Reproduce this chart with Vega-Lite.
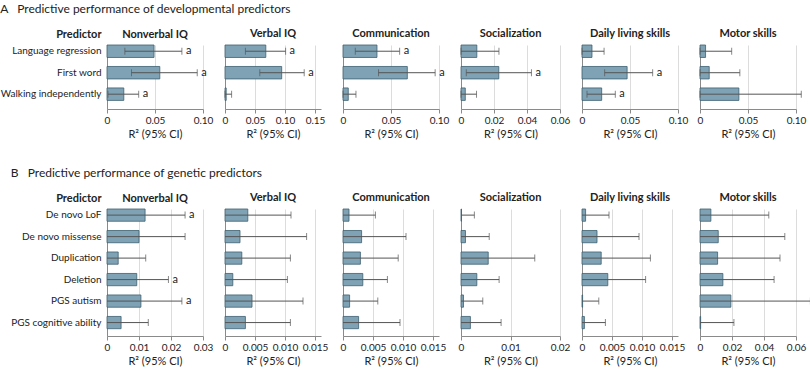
{
  "$schema": "https://vega.github.io/schema/vega-lite/v6.json",
  "background": "white",
  "padding": {"left": 0, "top": 2, "right": 0, "bottom": 2},
  "datasets": {
    "dev": [
      {"outcome": "Nonverbal IQ", "predictor": "Language regression", "r2": 0.049, "lo": 0.0186, "hi": 0.078, "sig": "a"},
      {"outcome": "Nonverbal IQ", "predictor": "First word", "r2": 0.055, "lo": 0.0255, "hi": 0.094, "sig": "a"},
      {"outcome": "Nonverbal IQ", "predictor": "Walking independently", "r2": 0.0175, "lo": 0.001, "hi": 0.033, "sig": "a"},
      {"outcome": "Verbal IQ", "predictor": "Language regression", "r2": 0.068, "lo": 0.034, "hi": 0.101, "sig": "a"},
      {"outcome": "Verbal IQ", "predictor": "First word", "r2": 0.0945, "lo": 0.058, "hi": 0.132, "sig": "a"},
      {"outcome": "Verbal IQ", "predictor": "Walking independently", "r2": 0.002, "lo": 0.0, "hi": 0.011, "sig": ""},
      {"outcome": "Communication", "predictor": "Language regression", "r2": 0.0354, "lo": 0.0128, "hi": 0.059, "sig": "a"},
      {"outcome": "Communication", "predictor": "First word", "r2": 0.067, "lo": 0.037, "hi": 0.096, "sig": "a"},
      {"outcome": "Communication", "predictor": "Walking independently", "r2": 0.0055, "lo": 0.0, "hi": 0.0135, "sig": ""},
      {"outcome": "Socialization", "predictor": "Language regression", "r2": 0.0096, "lo": 0.0, "hi": 0.023, "sig": ""},
      {"outcome": "Socialization", "predictor": "First word", "r2": 0.0229, "lo": 0.0032, "hi": 0.0427, "sig": "a"},
      {"outcome": "Socialization", "predictor": "Walking independently", "r2": 0.0026, "lo": 0.0, "hi": 0.0094, "sig": ""},
      {"outcome": "Daily living skills", "predictor": "Language regression", "r2": 0.0104, "lo": 0.0, "hi": 0.023, "sig": ""},
      {"outcome": "Daily living skills", "predictor": "First word", "r2": 0.047, "lo": 0.0236, "hi": 0.0736, "sig": "a"},
      {"outcome": "Daily living skills", "predictor": "Walking independently", "r2": 0.0205, "lo": 0.0052, "hi": 0.0347, "sig": "a"},
      {"outcome": "Motor skills", "predictor": "Language regression", "r2": 0.0058, "lo": 0.0, "hi": 0.033, "sig": ""},
      {"outcome": "Motor skills", "predictor": "First word", "r2": 0.0096, "lo": 0.0, "hi": 0.0415, "sig": ""},
      {"outcome": "Motor skills", "predictor": "Walking independently", "r2": 0.0405, "lo": 0.0, "hi": 0.1055, "sig": ""}
    ],
    "gen": [
      {"outcome": "Nonverbal IQ", "predictor": "De novo LoF", "r2": 0.0119, "lo": 0, "hi": 0.0244, "sig": "a"},
      {"outcome": "Nonverbal IQ", "predictor": "De novo missense", "r2": 0.010, "lo": 0, "hi": 0.0244, "sig": ""},
      {"outcome": "Nonverbal IQ", "predictor": "Duplication", "r2": 0.0035, "lo": 0, "hi": 0.0121, "sig": ""},
      {"outcome": "Nonverbal IQ", "predictor": "Deletion", "r2": 0.0093, "lo": 0, "hi": 0.0192, "sig": "a"},
      {"outcome": "Nonverbal IQ", "predictor": "PGS autism", "r2": 0.0106, "lo": 0, "hi": 0.0234, "sig": "a"},
      {"outcome": "Nonverbal IQ", "predictor": "PGS cognitive ability", "r2": 0.0044, "lo": 0, "hi": 0.0129, "sig": ""},
      {"outcome": "Verbal IQ", "predictor": "De novo LoF", "r2": 0.0038, "lo": 0, "hi": 0.011, "sig": ""},
      {"outcome": "Verbal IQ", "predictor": "De novo missense", "r2": 0.0025, "lo": 0, "hi": 0.0136, "sig": ""},
      {"outcome": "Verbal IQ", "predictor": "Duplication", "r2": 0.0028, "lo": 0, "hi": 0.0109, "sig": ""},
      {"outcome": "Verbal IQ", "predictor": "Deletion", "r2": 0.0013, "lo": 0, "hi": 0.0104, "sig": ""},
      {"outcome": "Verbal IQ", "predictor": "PGS autism", "r2": 0.0045, "lo": 0, "hi": 0.013, "sig": ""},
      {"outcome": "Verbal IQ", "predictor": "PGS cognitive ability", "r2": 0.0034, "lo": 0, "hi": 0.0109, "sig": ""},
      {"outcome": "Communication", "predictor": "De novo LoF", "r2": 0.001, "lo": 0, "hi": 0.0054, "sig": ""},
      {"outcome": "Communication", "predictor": "De novo missense", "r2": 0.0031, "lo": 0, "hi": 0.0105, "sig": ""},
      {"outcome": "Communication", "predictor": "Duplication", "r2": 0.0029, "lo": 0, "hi": 0.0092, "sig": ""},
      {"outcome": "Communication", "predictor": "Deletion", "r2": 0.0033, "lo": 0, "hi": 0.0074, "sig": ""},
      {"outcome": "Communication", "predictor": "PGS autism", "r2": 0.0011, "lo": 0, "hi": 0.0058, "sig": ""},
      {"outcome": "Communication", "predictor": "PGS cognitive ability", "r2": 0.0026, "lo": 0, "hi": 0.0095, "sig": ""},
      {"outcome": "Socialization", "predictor": "De novo LoF", "r2": 0.0001, "lo": 0, "hi": 0.0027, "sig": ""},
      {"outcome": "Socialization", "predictor": "De novo missense", "r2": 0.0009, "lo": 0, "hi": 0.0057, "sig": ""},
      {"outcome": "Socialization", "predictor": "Duplication", "r2": 0.0055, "lo": 0, "hi": 0.0149, "sig": ""},
      {"outcome": "Socialization", "predictor": "Deletion", "r2": 0.0032, "lo": 0, "hi": 0.0077, "sig": ""},
      {"outcome": "Socialization", "predictor": "PGS autism", "r2": 0.0005, "lo": 0, "hi": 0.0044, "sig": ""},
      {"outcome": "Socialization", "predictor": "PGS cognitive ability", "r2": 0.0019, "lo": 0, "hi": 0.0081, "sig": ""},
      {"outcome": "Daily living skills", "predictor": "De novo LoF", "r2": 0.0006, "lo": 0, "hi": 0.0045, "sig": ""},
      {"outcome": "Daily living skills", "predictor": "De novo missense", "r2": 0.0025, "lo": 0, "hi": 0.0095, "sig": ""},
      {"outcome": "Daily living skills", "predictor": "Duplication", "r2": 0.0032, "lo": 0, "hi": 0.0114, "sig": ""},
      {"outcome": "Daily living skills", "predictor": "Deletion", "r2": 0.0043, "lo": 0, "hi": 0.0106, "sig": ""},
      {"outcome": "Daily living skills", "predictor": "PGS autism", "r2": 0.0001, "lo": 0, "hi": 0.0028, "sig": ""},
      {"outcome": "Daily living skills", "predictor": "PGS cognitive ability", "r2": 0.0004, "lo": 0, "hi": 0.0039, "sig": ""},
      {"outcome": "Motor skills", "predictor": "De novo LoF", "r2": 0.0068, "lo": 0, "hi": 0.043, "sig": ""},
      {"outcome": "Motor skills", "predictor": "De novo missense", "r2": 0.0114, "lo": 0, "hi": 0.053, "sig": ""},
      {"outcome": "Motor skills", "predictor": "Duplication", "r2": 0.011, "lo": 0, "hi": 0.050, "sig": ""},
      {"outcome": "Motor skills", "predictor": "Deletion", "r2": 0.0143, "lo": 0, "hi": 0.0463, "sig": ""},
      {"outcome": "Motor skills", "predictor": "PGS autism", "r2": 0.0193, "lo": 0, "hi": 0.069, "sig": ""},
      {"outcome": "Motor skills", "predictor": "PGS cognitive ability", "r2": 0.0004, "lo": 0, "hi": 0.0212, "sig": ""}
    ]
  },
  "vconcat": [
    {
      "data": {"name": "dev"},
      "title": {"text": "A\u00a0\u00a0\u00a0Predictive performance of developmental predictors", "anchor": "start", "fontSize": 12, "fontWeight": "normal", "offset": 12},
      "spacing": 22,
      "bounds": "flush",
      "hconcat": [
        {
          "width": 96, "height": 64, "title": {"text": "Nonverbal IQ", "offset": -12},
          "transform": [{"filter": "datum.outcome === 'Nonverbal IQ'"}],
          "encoding": {"y": {"field": "predictor", "type": "nominal", "sort": null, "scale": {"paddingInner": 0.42, "paddingOuter": 0.2, "align": 0}, "axis": {"title": "Predictor", "titleAngle": 0, "titleAlign": "right", "titleBaseline": "bottom", "titleX": -6, "titleY": -6, "titleFontWeight": "bold", "labelPadding": 6}}},
          "layer": [
            {"mark": {"type": "bar", "fill": "#7fa3b5", "stroke": "#3d5f70", "strokeWidth": 0.8}, "encoding": {"x": {"field": "r2", "type": "quantitative", "title": "R² (95% CI)", "scale": {"domain": [0, 0.1]}, "axis": {"values": [0, 0.05, 0.1], "tickCount": 20, "labelOverlap": false, "labelFlush": false, "labelExpr": "datum.value == 0 ? '0' : format(datum.value, '.2f')"}}}},
            {"mark": {"type": "rule", "color": "#555", "strokeWidth": 1}, "encoding": {"x": {"field": "lo", "type": "quantitative", "title": "R² (95% CI)"}, "x2": {"field": "hi"}}},
            {"mark": {"type": "tick", "color": "#555", "thickness": 1, "size": 7}, "encoding": {"x": {"field": "lo", "type": "quantitative", "title": "R² (95% CI)"}}},
            {"mark": {"type": "tick", "color": "#555", "thickness": 1, "size": 7}, "encoding": {"x": {"field": "hi", "type": "quantitative", "title": "R² (95% CI)"}}},
            {"transform": [{"filter": "datum.sig === 'a'"}], "mark": {"type": "text", "align": "left", "dx": 4, "fontSize": 11, "color": "#222"}, "encoding": {"x": {"field": "hi", "type": "quantitative", "title": "R² (95% CI)"}, "text": {"field": "sig"}}}
          ]
        },
        {
          "width": 96, "height": 64, "title": "Verbal IQ",
          "transform": [{"filter": "datum.outcome === 'Verbal IQ'"}],
          "encoding": {"y": {"field": "predictor", "type": "nominal", "sort": null, "scale": {"paddingInner": 0.42, "paddingOuter": 0.2, "align": 0}, "axis": {"title": null, "labels": false}}},
          "layer": [
            {"mark": {"type": "bar", "fill": "#7fa3b5", "stroke": "#3d5f70", "strokeWidth": 0.8}, "encoding": {"x": {"field": "r2", "type": "quantitative", "title": "R² (95% CI)", "scale": {"domain": [0, 0.15]}, "axis": {"values": [0, 0.05, 0.1, 0.15], "tickCount": 20, "labelOverlap": false, "labelFlush": false, "labelExpr": "datum.value == 0 ? '0' : format(datum.value, '.2f')"}}}},
            {"mark": {"type": "rule", "color": "#555", "strokeWidth": 1}, "encoding": {"x": {"field": "lo", "type": "quantitative", "title": "R² (95% CI)"}, "x2": {"field": "hi"}}},
            {"mark": {"type": "tick", "color": "#555", "thickness": 1, "size": 7}, "encoding": {"x": {"field": "lo", "type": "quantitative", "title": "R² (95% CI)"}}},
            {"mark": {"type": "tick", "color": "#555", "thickness": 1, "size": 7}, "encoding": {"x": {"field": "hi", "type": "quantitative", "title": "R² (95% CI)"}}},
            {"transform": [{"filter": "datum.sig === 'a'"}], "mark": {"type": "text", "align": "left", "dx": 4, "fontSize": 11, "color": "#222"}, "encoding": {"x": {"field": "hi", "type": "quantitative", "title": "R² (95% CI)"}, "text": {"field": "sig"}}}
          ]
        },
        {
          "width": 96, "height": 64, "title": "Communication",
          "transform": [{"filter": "datum.outcome === 'Communication'"}],
          "encoding": {"y": {"field": "predictor", "type": "nominal", "sort": null, "scale": {"paddingInner": 0.42, "paddingOuter": 0.2, "align": 0}, "axis": {"title": null, "labels": false}}},
          "layer": [
            {"mark": {"type": "bar", "fill": "#7fa3b5", "stroke": "#3d5f70", "strokeWidth": 0.8}, "encoding": {"x": {"field": "r2", "type": "quantitative", "title": "R² (95% CI)", "scale": {"domain": [0, 0.1]}, "axis": {"values": [0, 0.05, 0.1], "tickCount": 20, "labelOverlap": false, "labelFlush": false, "labelExpr": "datum.value == 0 ? '0' : format(datum.value, '.2f')"}}}},
            {"mark": {"type": "rule", "color": "#555", "strokeWidth": 1}, "encoding": {"x": {"field": "lo", "type": "quantitative", "title": "R² (95% CI)"}, "x2": {"field": "hi"}}},
            {"mark": {"type": "tick", "color": "#555", "thickness": 1, "size": 7}, "encoding": {"x": {"field": "lo", "type": "quantitative", "title": "R² (95% CI)"}}},
            {"mark": {"type": "tick", "color": "#555", "thickness": 1, "size": 7}, "encoding": {"x": {"field": "hi", "type": "quantitative", "title": "R² (95% CI)"}}},
            {"transform": [{"filter": "datum.sig === 'a'"}], "mark": {"type": "text", "align": "left", "dx": 4, "fontSize": 11, "color": "#222"}, "encoding": {"x": {"field": "hi", "type": "quantitative", "title": "R² (95% CI)"}, "text": {"field": "sig"}}}
          ]
        },
        {
          "width": 99, "height": 64, "title": "Socialization",
          "transform": [{"filter": "datum.outcome === 'Socialization'"}],
          "encoding": {"y": {"field": "predictor", "type": "nominal", "sort": null, "scale": {"paddingInner": 0.42, "paddingOuter": 0.2, "align": 0}, "axis": {"title": null, "labels": false}}},
          "layer": [
            {"mark": {"type": "bar", "fill": "#7fa3b5", "stroke": "#3d5f70", "strokeWidth": 0.8}, "encoding": {"x": {"field": "r2", "type": "quantitative", "title": "R² (95% CI)", "scale": {"domain": [0, 0.06]}, "axis": {"values": [0, 0.02, 0.04, 0.06], "tickCount": 20, "labelOverlap": false, "labelFlush": false, "labelExpr": "datum.value == 0 ? '0' : format(datum.value, '.2f')"}}}},
            {"mark": {"type": "rule", "color": "#555", "strokeWidth": 1}, "encoding": {"x": {"field": "lo", "type": "quantitative", "title": "R² (95% CI)"}, "x2": {"field": "hi"}}},
            {"mark": {"type": "tick", "color": "#555", "thickness": 1, "size": 7}, "encoding": {"x": {"field": "lo", "type": "quantitative", "title": "R² (95% CI)"}}},
            {"mark": {"type": "tick", "color": "#555", "thickness": 1, "size": 7}, "encoding": {"x": {"field": "hi", "type": "quantitative", "title": "R² (95% CI)"}}},
            {"transform": [{"filter": "datum.sig === 'a'"}], "mark": {"type": "text", "align": "left", "dx": 4, "fontSize": 11, "color": "#222"}, "encoding": {"x": {"field": "hi", "type": "quantitative", "title": "R² (95% CI)"}, "text": {"field": "sig"}}}
          ]
        },
        {
          "width": 96, "height": 64, "title": "Daily living skills",
          "transform": [{"filter": "datum.outcome === 'Daily living skills'"}],
          "encoding": {"y": {"field": "predictor", "type": "nominal", "sort": null, "scale": {"paddingInner": 0.42, "paddingOuter": 0.2, "align": 0}, "axis": {"title": null, "labels": false}}},
          "layer": [
            {"mark": {"type": "bar", "fill": "#7fa3b5", "stroke": "#3d5f70", "strokeWidth": 0.8}, "encoding": {"x": {"field": "r2", "type": "quantitative", "title": "R² (95% CI)", "scale": {"domain": [0, 0.1]}, "axis": {"values": [0, 0.05, 0.1], "tickCount": 20, "labelOverlap": false, "labelFlush": false, "labelExpr": "datum.value == 0 ? '0' : format(datum.value, '.2f')"}}}},
            {"mark": {"type": "rule", "color": "#555", "strokeWidth": 1}, "encoding": {"x": {"field": "lo", "type": "quantitative", "title": "R² (95% CI)"}, "x2": {"field": "hi"}}},
            {"mark": {"type": "tick", "color": "#555", "thickness": 1, "size": 7}, "encoding": {"x": {"field": "lo", "type": "quantitative", "title": "R² (95% CI)"}}},
            {"mark": {"type": "tick", "color": "#555", "thickness": 1, "size": 7}, "encoding": {"x": {"field": "hi", "type": "quantitative", "title": "R² (95% CI)"}}},
            {"transform": [{"filter": "datum.sig === 'a'"}], "mark": {"type": "text", "align": "left", "dx": 4, "fontSize": 11, "color": "#222"}, "encoding": {"x": {"field": "hi", "type": "quantitative", "title": "R² (95% CI)"}, "text": {"field": "sig"}}}
          ]
        },
        {
          "width": 96, "height": 64, "title": "Motor skills",
          "transform": [{"filter": "datum.outcome === 'Motor skills'"}],
          "encoding": {"y": {"field": "predictor", "type": "nominal", "sort": null, "scale": {"paddingInner": 0.42, "paddingOuter": 0.2, "align": 0}, "axis": {"title": null, "labels": false}}},
          "layer": [
            {"mark": {"type": "bar", "fill": "#7fa3b5", "stroke": "#3d5f70", "strokeWidth": 0.8}, "encoding": {"x": {"field": "r2", "type": "quantitative", "title": "R² (95% CI)", "scale": {"domain": [0, 0.1]}, "axis": {"values": [0, 0.05, 0.1], "tickCount": 20, "labelOverlap": false, "labelFlush": false, "labelExpr": "datum.value == 0 ? '0' : format(datum.value, '.2f')"}}}},
            {"mark": {"type": "rule", "color": "#555", "strokeWidth": 1}, "encoding": {"x": {"field": "lo", "type": "quantitative", "title": "R² (95% CI)"}, "x2": {"field": "hi"}}},
            {"mark": {"type": "tick", "color": "#555", "thickness": 1, "size": 7}, "encoding": {"x": {"field": "lo", "type": "quantitative", "title": "R² (95% CI)"}}},
            {"mark": {"type": "tick", "color": "#555", "thickness": 1, "size": 7}, "encoding": {"x": {"field": "hi", "type": "quantitative", "title": "R² (95% CI)"}}},
            {"transform": [{"filter": "datum.sig === 'a'"}], "mark": {"type": "text", "align": "left", "dx": 4, "fontSize": 11, "color": "#222"}, "encoding": {"x": {"field": "hi", "type": "quantitative", "title": "R² (95% CI)"}, "text": {"field": "sig"}}}
          ]
        }
      ]
    },
    {
      "data": {"name": "gen"},
      "title": {"text": "B\u00a0\u00a0\u00a0Predictive performance of genetic predictors", "anchor": "start", "fontSize": 12, "fontWeight": "normal", "offset": 12},
      "spacing": 22,
      "bounds": "flush",
      "hconcat": [
        {
          "width": 96, "height": 127, "title": {"text": "Nonverbal IQ", "offset": -12},
          "transform": [{"filter": "datum.outcome === 'Nonverbal IQ'"}],
          "encoding": {"y": {"field": "predictor", "type": "nominal", "sort": null, "scale": {"paddingInner": 0.43, "paddingOuter": 0.17, "align": 0}, "axis": {"title": "Predictor", "titleAngle": 0, "titleAlign": "right", "titleBaseline": "bottom", "titleX": -6, "titleY": -6, "titleFontWeight": "bold", "labelPadding": 6}}},
          "layer": [
            {"mark": {"type": "bar", "fill": "#7fa3b5", "stroke": "#3d5f70", "strokeWidth": 0.8}, "encoding": {"x": {"field": "r2", "type": "quantitative", "title": "R² (95% CI)", "scale": {"domain": [0, 0.03]}, "axis": {"values": [0, 0.01, 0.02, 0.03], "tickCount": 20, "labelOverlap": false, "labelFlush": false, "labelExpr": "datum.value == 0 ? '0' : format(datum.value, '.2f')"}}}},
            {"mark": {"type": "rule", "color": "#555", "strokeWidth": 1}, "encoding": {"x": {"field": "lo", "type": "quantitative", "title": "R² (95% CI)"}, "x2": {"field": "hi"}}},
            {"mark": {"type": "tick", "color": "#555", "thickness": 1, "size": 7}, "encoding": {"x": {"field": "hi", "type": "quantitative", "title": "R² (95% CI)"}}},
            {"transform": [{"filter": "datum.sig === 'a'"}], "mark": {"type": "text", "align": "left", "dx": 4, "fontSize": 11, "color": "#222"}, "encoding": {"x": {"field": "hi", "type": "quantitative", "title": "R² (95% CI)"}, "text": {"field": "sig"}}}
          ]
        },
        {
          "width": 96, "height": 127, "title": "Verbal IQ",
          "transform": [{"filter": "datum.outcome === 'Verbal IQ'"}],
          "encoding": {"y": {"field": "predictor", "type": "nominal", "sort": null, "scale": {"paddingInner": 0.43, "paddingOuter": 0.17, "align": 0}, "axis": {"title": null, "labels": false}}},
          "layer": [
            {"mark": {"type": "bar", "fill": "#7fa3b5", "stroke": "#3d5f70", "strokeWidth": 0.8}, "encoding": {"x": {"field": "r2", "type": "quantitative", "title": "R² (95% CI)", "scale": {"domain": [0, 0.015]}, "axis": {"values": [0, 0.005, 0.01, 0.015], "tickCount": 20, "labelOverlap": false, "labelFlush": false, "labelExpr": "datum.value == 0 ? '0' : format(datum.value, '.3f')"}}}},
            {"mark": {"type": "rule", "color": "#555", "strokeWidth": 1}, "encoding": {"x": {"field": "lo", "type": "quantitative", "title": "R² (95% CI)"}, "x2": {"field": "hi"}}},
            {"mark": {"type": "tick", "color": "#555", "thickness": 1, "size": 7}, "encoding": {"x": {"field": "hi", "type": "quantitative", "title": "R² (95% CI)"}}}
          ]
        },
        {
          "width": 96, "height": 127, "title": "Communication",
          "transform": [{"filter": "datum.outcome === 'Communication'"}],
          "encoding": {"y": {"field": "predictor", "type": "nominal", "sort": null, "scale": {"paddingInner": 0.43, "paddingOuter": 0.17, "align": 0}, "axis": {"title": null, "labels": false}}},
          "layer": [
            {"mark": {"type": "bar", "fill": "#7fa3b5", "stroke": "#3d5f70", "strokeWidth": 0.8}, "encoding": {"x": {"field": "r2", "type": "quantitative", "title": "R² (95% CI)", "scale": {"domain": [0, 0.015]}, "axis": {"values": [0, 0.005, 0.01, 0.015], "tickCount": 20, "labelOverlap": false, "labelFlush": false, "labelExpr": "datum.value == 0 ? '0' : format(datum.value, '.3f')"}}}},
            {"mark": {"type": "rule", "color": "#555", "strokeWidth": 1}, "encoding": {"x": {"field": "lo", "type": "quantitative", "title": "R² (95% CI)"}, "x2": {"field": "hi"}}},
            {"mark": {"type": "tick", "color": "#555", "thickness": 1, "size": 7}, "encoding": {"x": {"field": "hi", "type": "quantitative", "title": "R² (95% CI)"}}}
          ]
        },
        {
          "width": 99, "height": 127, "title": "Socialization",
          "transform": [{"filter": "datum.outcome === 'Socialization'"}],
          "encoding": {"y": {"field": "predictor", "type": "nominal", "sort": null, "scale": {"paddingInner": 0.43, "paddingOuter": 0.17, "align": 0}, "axis": {"title": null, "labels": false}}},
          "layer": [
            {"mark": {"type": "bar", "fill": "#7fa3b5", "stroke": "#3d5f70", "strokeWidth": 0.8}, "encoding": {"x": {"field": "r2", "type": "quantitative", "title": "R² (95% CI)", "scale": {"domain": [0, 0.02]}, "axis": {"values": [0, 0.01, 0.02], "tickCount": 20, "labelOverlap": false, "labelFlush": false, "labelExpr": "datum.value == 0 ? '0' : format(datum.value, '.2f')"}}}},
            {"mark": {"type": "rule", "color": "#555", "strokeWidth": 1}, "encoding": {"x": {"field": "lo", "type": "quantitative", "title": "R² (95% CI)"}, "x2": {"field": "hi"}}},
            {"mark": {"type": "tick", "color": "#555", "thickness": 1, "size": 7}, "encoding": {"x": {"field": "hi", "type": "quantitative", "title": "R² (95% CI)"}}}
          ]
        },
        {
          "width": 96, "height": 127, "title": "Daily living skills",
          "transform": [{"filter": "datum.outcome === 'Daily living skills'"}],
          "encoding": {"y": {"field": "predictor", "type": "nominal", "sort": null, "scale": {"paddingInner": 0.43, "paddingOuter": 0.17, "align": 0}, "axis": {"title": null, "labels": false}}},
          "layer": [
            {"mark": {"type": "bar", "fill": "#7fa3b5", "stroke": "#3d5f70", "strokeWidth": 0.8}, "encoding": {"x": {"field": "r2", "type": "quantitative", "title": "R² (95% CI)", "scale": {"domain": [0, 0.015]}, "axis": {"values": [0, 0.005, 0.01, 0.015], "tickCount": 20, "labelOverlap": false, "labelFlush": false, "labelExpr": "datum.value == 0 ? '0' : format(datum.value, '.3f')"}}}},
            {"mark": {"type": "rule", "color": "#555", "strokeWidth": 1}, "encoding": {"x": {"field": "lo", "type": "quantitative", "title": "R² (95% CI)"}, "x2": {"field": "hi"}}},
            {"mark": {"type": "tick", "color": "#555", "thickness": 1, "size": 7}, "encoding": {"x": {"field": "hi", "type": "quantitative", "title": "R² (95% CI)"}}}
          ]
        },
        {
          "width": 96, "height": 127, "title": "Motor skills",
          "transform": [{"filter": "datum.outcome === 'Motor skills'"}],
          "encoding": {"y": {"field": "predictor", "type": "nominal", "sort": null, "scale": {"paddingInner": 0.43, "paddingOuter": 0.17, "align": 0}, "axis": {"title": null, "labels": false}}},
          "layer": [
            {"mark": {"type": "bar", "fill": "#7fa3b5", "stroke": "#3d5f70", "strokeWidth": 0.8}, "encoding": {"x": {"field": "r2", "type": "quantitative", "title": "R² (95% CI)", "scale": {"domain": [0, 0.06]}, "axis": {"values": [0, 0.02, 0.04, 0.06], "tickCount": 20, "labelOverlap": false, "labelFlush": false, "labelExpr": "datum.value == 0 ? '0' : format(datum.value, '.2f')"}}}},
            {"mark": {"type": "rule", "color": "#555", "strokeWidth": 1}, "encoding": {"x": {"field": "lo", "type": "quantitative", "title": "R² (95% CI)"}, "x2": {"field": "hi"}}},
            {"mark": {"type": "tick", "color": "#555", "thickness": 1, "size": 7}, "encoding": {"x": {"field": "hi", "type": "quantitative", "title": "R² (95% CI)"}}}
          ]
        }
      ]
    }
  ],
  "spacing": 27,
  "config": {
    "font": "Lato",
    "view": {"stroke": null},
    "axis": {"labelFontSize": 11, "labelColor": "#222", "titleFontSize": 11, "titleFontWeight": "normal", "titleColor": "#222", "domainColor": "#8a8a8a", "tickColor": "#8a8a8a", "gridColor": "#dcdcdc"},
    "axisX": {"grid": true, "labelFlush": false, "labelOverlap": false, "tickSize": 4, "labelPadding": 2, "titlePadding": 3, "tickCount": 20, "labelFontSize": 10},
    "axisY": {"grid": false, "ticks": false, "labelFontSize": 10},
    "title": {"fontSize": 11, "fontWeight": "bold", "color": "#222", "offset": 6}
  }
}
